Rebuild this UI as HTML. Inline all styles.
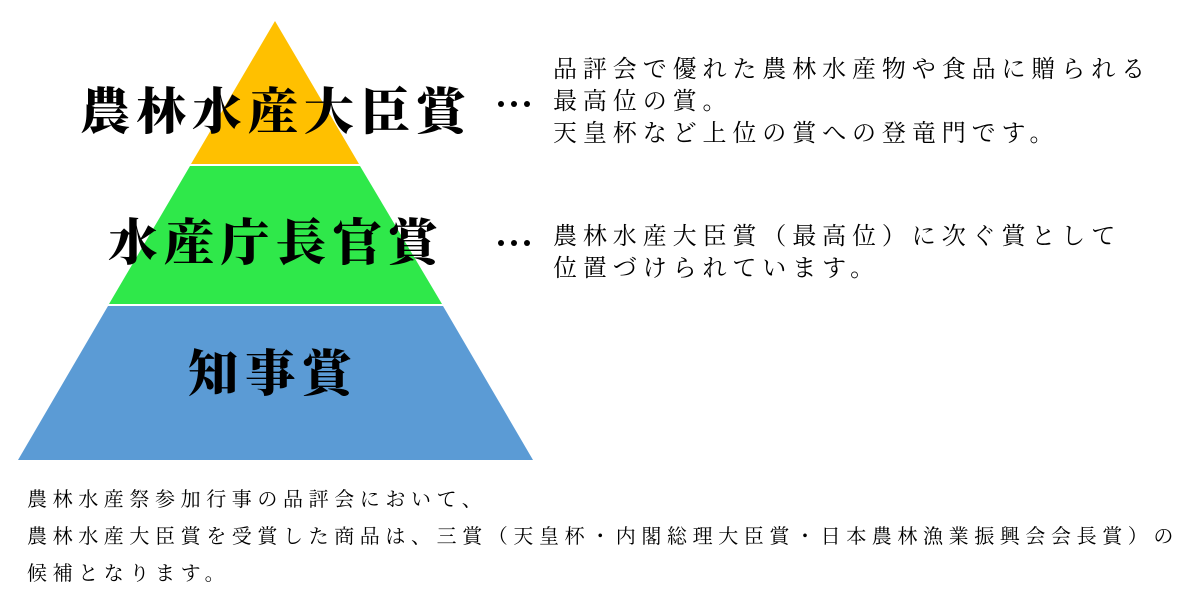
<!DOCTYPE html>
<html><head><meta charset="utf-8"><style>
html,body{margin:0;padding:0;background:#fff;width:1200px;height:600px;overflow:hidden;position:relative}
.t{position:absolute;white-space:nowrap;color:#000;font-family:"Liberation Serif","Noto Serif CJK JP","Noto Serif CJK SC",serif;}
.big{font-weight:900;font-size:50px;line-height:56px}
.mid{font-size:24px;line-height:32px;letter-spacing:5.9px}
.sm{font-size:20px;line-height:37px;letter-spacing:5.6px}
.dot{position:absolute;width:6px;height:6px;border-radius:3px;background:#000}
</style></head><body>
<svg width="1200" height="600" style="position:absolute;left:0;top:0">
<polygon points="275,21 359,164 191,164" fill="#ffc000"/>
<polygon points="190,166 360,166 442,304 109,304" fill="#2fe84a"/>
<polygon points="108,306 443,306 533,460 18,460" fill="#5b9bd5"/>
</svg>
<div class="t big" style="left:80px;top:84px;letter-spacing:6px">農林水産大臣賞</div>
<div class="t big" style="left:108px;top:215px;letter-spacing:6px">水産庁長官賞</div>
<div class="t big" style="left:188px;top:346px;letter-spacing:7px">知事賞</div>
<div class="dot" style="left:498px;top:101px"></div><div class="dot" style="left:511px;top:101px"></div><div class="dot" style="left:524px;top:101px"></div>
<div class="dot" style="left:498px;top:240px"></div><div class="dot" style="left:511px;top:240px"></div><div class="dot" style="left:524px;top:240px"></div>
<div class="t mid" style="left:553px;top:54px">品評会で優れた農林水産物や食品に贈られる<br>最高位の賞。<br>天皇杯など上位の賞への登竜門です。</div>
<div class="t mid" style="left:553px;top:221px">農林水産大臣賞（最高位）に次ぐ賞として<br>位置づけられています。</div>
<div class="t sm" style="left:27px;top:482px">農林水産祭参加行事の品評会において、<br>農林水産大臣賞を受賞した商品は、三賞（天皇杯・内閣総理大臣賞・日本農林漁業振興会会長賞）の<br>候補となります。</div>
</body></html>
